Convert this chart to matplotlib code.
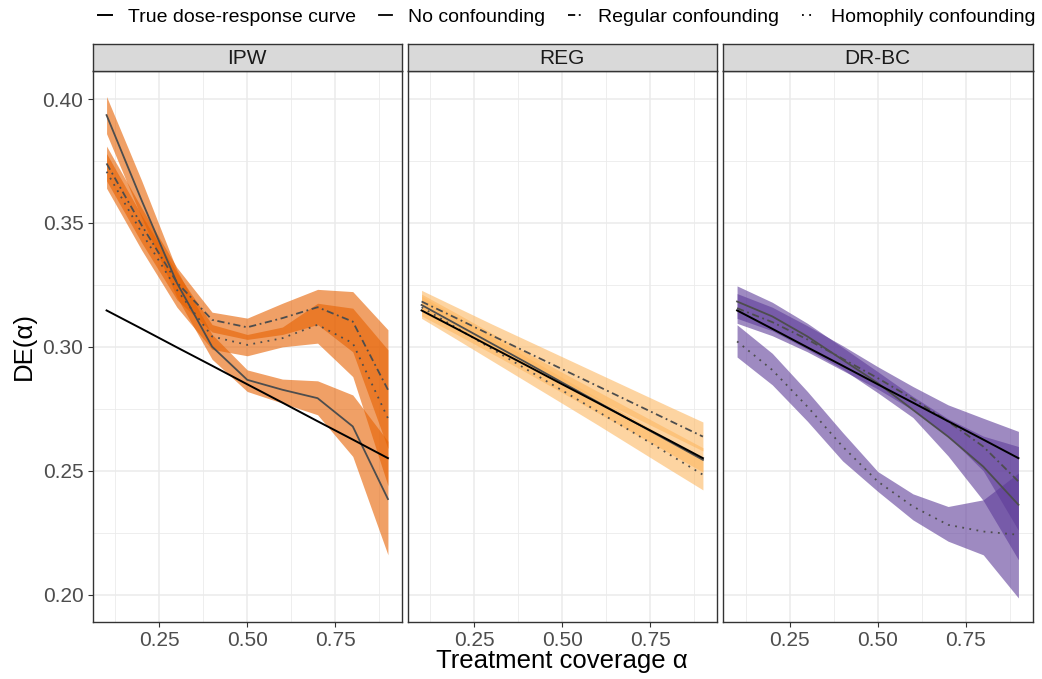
import numpy as np
import matplotlib.pyplot as plt
from matplotlib.lines import Line2D
from matplotlib.ticker import MultipleLocator

plt.rcParams['font.family'] = ['Liberation Sans', 'DejaVu Sans']

# coverage values
alpha_vals = [0.1, 0.2, 0.3, 0.4, 0.5, 0.6, 0.7, 0.8, 0.9]

# true curve
true_de = [0.3147, 0.3073, 0.2998, 0.2924, 0.2849, 0.2775, 0.2700, 0.2626, 0.2551]

# IPW
ipw_none = [0.3935, 0.3590, 0.3258, 0.3001, 0.2867, 0.2827, 0.2793, 0.2679, 0.2386]
ipw_none_lo = [0.3860, 0.3520, 0.3200, 0.2950, 0.2820, 0.2773, 0.2726, 0.2558, 0.2161]
ipw_none_hi = [0.4010, 0.3670, 0.3310, 0.3050, 0.2907, 0.2870, 0.2863, 0.2806, 0.2619]
ipw_reg = [0.3740, 0.3490, 0.3260, 0.3109, 0.3079, 0.3116, 0.3160, 0.3102, 0.2827]
ipw_reg_lo = [0.3670, 0.3420, 0.3190, 0.3060, 0.3030, 0.3050, 0.3090, 0.2980, 0.2590]
ipw_reg_hi = [0.3810, 0.3560, 0.3320, 0.3140, 0.3116, 0.3176, 0.3232, 0.3223, 0.3069]
ipw_hom = [0.3707, 0.3460, 0.3230, 0.3042, 0.3008, 0.3035, 0.3089, 0.3015, 0.2712]
ipw_hom_lo = [0.3640, 0.3390, 0.3160, 0.2990, 0.2964, 0.3000, 0.3015, 0.2880, 0.2440]
ipw_hom_hi = [0.3780, 0.3530, 0.3300, 0.3090, 0.3050, 0.3080, 0.3176, 0.3156, 0.2988]

# REG
reg_none = [0.3169, 0.3091, 0.3013, 0.2935, 0.2856, 0.2778, 0.2700, 0.2622, 0.2544]
reg_none_lo = [0.3125, 0.3050, 0.2973, 0.2895, 0.2815, 0.2735, 0.2655, 0.2575, 0.2495]
reg_none_hi = [0.3213, 0.3135, 0.3055, 0.2975, 0.2897, 0.2821, 0.2745, 0.2669, 0.2593]
reg_reg = [0.3183, 0.3115, 0.3046, 0.2978, 0.2910, 0.2842, 0.2774, 0.2706, 0.2638]
reg_reg_lo = [0.3140, 0.3070, 0.3000, 0.2930, 0.2860, 0.2790, 0.2720, 0.2650, 0.2580]
reg_reg_hi = [0.3228, 0.3160, 0.3092, 0.3026, 0.2960, 0.2894, 0.2828, 0.2762, 0.2697]
reg_hom = [0.3160, 0.3076, 0.2992, 0.2908, 0.2824, 0.2740, 0.2656, 0.2570, 0.2484]
reg_hom_lo = [0.3115, 0.3030, 0.2944, 0.2858, 0.2772, 0.2686, 0.2598, 0.2510, 0.2423]
reg_hom_hi = [0.3205, 0.3122, 0.3040, 0.2958, 0.2876, 0.2794, 0.2712, 0.2630, 0.2546]

# DR-BC
dr_none = [0.3183, 0.3123, 0.3042, 0.2948, 0.2854, 0.2746, 0.2638, 0.2517, 0.2363]
dr_none_lo = [0.3115, 0.3065, 0.2990, 0.2910, 0.2815, 0.2715, 0.2560, 0.2380, 0.2141]
dr_none_hi = [0.3246, 0.3180, 0.3095, 0.2998, 0.2900, 0.2800, 0.2710, 0.2640, 0.2598]
dr_reg = [0.3156, 0.3100, 0.3030, 0.2952, 0.2874, 0.2790, 0.2699, 0.2598, 0.2457]
dr_reg_lo = [0.3095, 0.3045, 0.2980, 0.2905, 0.2830, 0.2745, 0.2640, 0.2500, 0.2260]
dr_reg_hi = [0.3215, 0.3160, 0.3085, 0.3005, 0.2920, 0.2840, 0.2766, 0.2712, 0.2659]
dr_hom = [0.3022, 0.2907, 0.2759, 0.2598, 0.2457, 0.2356, 0.2282, 0.2255, 0.2242]
dr_hom_lo = [0.2959, 0.2847, 0.2700, 0.2540, 0.2417, 0.2302, 0.2216, 0.2161, 0.1987]
dr_hom_hi = [0.3089, 0.2974, 0.2820, 0.2655, 0.2497, 0.2407, 0.2356, 0.2383, 0.2491]

panels = ['IPW', 'REG', 'DR-BC']
colors = ['#E66101', '#FDB863', '#5E3C99']
series = [
    [(ipw_none, ipw_none_lo, ipw_none_hi), (ipw_reg, ipw_reg_lo, ipw_reg_hi), (ipw_hom, ipw_hom_lo, ipw_hom_hi)],
    [(reg_none, reg_none_lo, reg_none_hi), (reg_reg, reg_reg_lo, reg_reg_hi), (reg_hom, reg_hom_lo, reg_hom_hi)],
    [(dr_none, dr_none_lo, dr_none_hi), (dr_reg, dr_reg_lo, dr_reg_hi), (dr_hom, dr_hom_lo, dr_hom_hi)],
]
styles = ['-', (0, (4, 2, 1, 2)), (0, (1, 3))]

W, H = 1042, 679
fig = plt.figure(figsize=(W / 100, H / 100), dpi=100)

def box(x0, y0, x1, y1):
    return [x0 / W, 1 - y1 / H, (x1 - x0) / W, (y1 - y0) / H]

lefts = [92.5, 407.5, 723]
width = 309.5
top, bottom, strip_top = 70.5, 622, 43.5
grey = '#4D4D4D'

for i, name in enumerate(panels):
    ax = fig.add_axes(box(lefts[i], top, lefts[i] + width, bottom))
    for est, lo, hi in series[i]:
        ax.fill_between(alpha_vals, lo, hi, color=colors[i], alpha=0.6, linewidth=0)
    ax.plot(alpha_vals, true_de, color='black', lw=1.4, zorder=5)
    for (est, lo, hi), ls in zip(series[i], styles):
        ax.plot(alpha_vals, est, color=grey, lw=1.3, linestyle=ls, zorder=4)
    ax.set_xlim(0.06, 0.94)
    ax.set_ylim(0.189, 0.4115)
    ax.xaxis.set_major_locator(MultipleLocator(0.25))
    ax.xaxis.set_minor_locator(MultipleLocator(0.125))
    ax.yaxis.set_major_locator(MultipleLocator(0.05))
    ax.yaxis.set_minor_locator(MultipleLocator(0.025))
    ax.grid(True, which='major', color='#EBEBEB', lw=1.1)
    ax.grid(True, which='minor', color='#EBEBEB', lw=0.6)
    ax.set_axisbelow(True)
    ax.set_xticks([0.25, 0.5, 0.75])
    ax.set_xticklabels(['0.25', '0.50', '0.75'])
    ax.tick_params(axis='both', which='major', labelsize=15, labelcolor=grey,
                   color='#333333', length=3.5, width=0.8, pad=3)
    ax.tick_params(which='minor', length=0)
    if i == 0:
        ax.set_yticks([0.20, 0.25, 0.30, 0.35, 0.40])
        ax.set_yticklabels(['0.20', '0.25', '0.30', '0.35', '0.40'])
    else:
        ax.tick_params(axis='y', which='both', length=0, labelleft=False)
    for s in ax.spines.values():
        s.set_color('#333333')
        s.set_linewidth(1.0)

    sax = fig.add_axes(box(lefts[i], strip_top, lefts[i] + width, top))
    sax.set_facecolor('#D9D9D9')
    sax.set_xticks([])
    sax.set_yticks([])
    for s in sax.spines.values():
        s.set_color('#333333')
        s.set_linewidth(1.0)
    sax.text(0.5, 0.45, name, ha='center', va='center', fontsize=15,
             color='#1A1A1A', transform=sax.transAxes)

fig.text(24 / W, 1 - 346 / H, 'DE(α)', rotation=90, ha='center', va='center', fontsize=18.5)
fig.text(562 / W, 1 - 661 / H, 'Treatment coverage α', ha='center', va='center', fontsize=18.5)

handles = [Line2D([], [], color='black', lw=1.4, linestyle='-'),
           Line2D([], [], color='black', lw=1.3, linestyle='-'),
           Line2D([], [], color='black', lw=1.3, linestyle=(0, (4, 2, 1, 2))),
           Line2D([], [], color='black', lw=1.3, linestyle=(0, (1, 3)))]
labels = ['True dose-response curve', 'No confounding', 'Regular confounding', 'Homophily confounding']
fig.legend(handles, labels, loc='center', bbox_to_anchor=(567 / W, 1 - 17 / H), ncol=4,
           frameon=False, fontsize=14, handlelength=0.7, handletextpad=0.8, columnspacing=1.2)

fig.savefig('out.png', dpi=100)
